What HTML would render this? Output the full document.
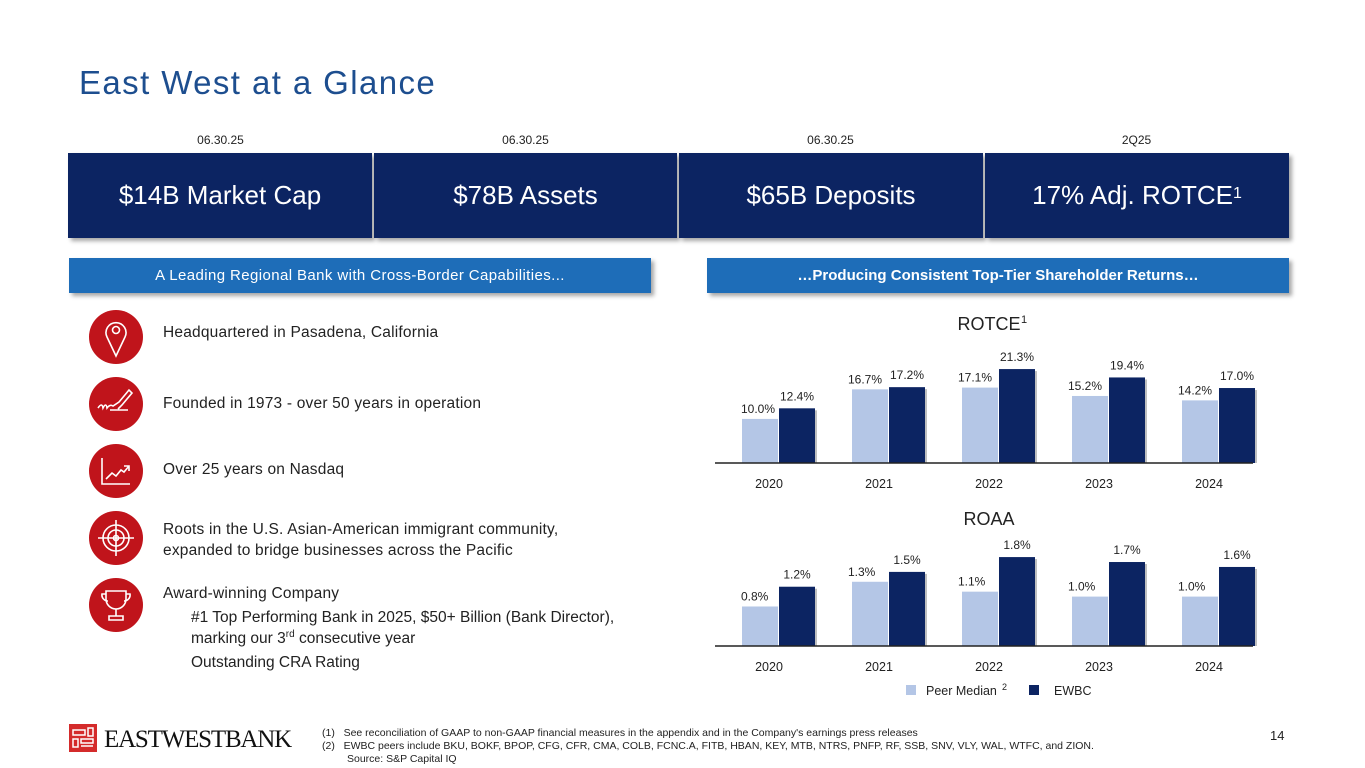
<!DOCTYPE html>
<html><head><meta charset="utf-8"><style>
body{margin:0;width:1365px;height:768px;background:#fff;font-family:"Liberation Sans",sans-serif;position:relative;overflow:hidden;color:#222}
.a{position:absolute}
.hdr{top:153px;height:85px;background:#0c2462;color:#fff;font-size:26px;display:flex;align-items:center;justify-content:center;box-shadow:3px 3px 4px rgba(0,0,0,.35)}
.date{top:133px;font-size:12px;color:#222;width:305px;text-align:center}
.ban{top:258px;height:35px;background:#1e6db8;color:#fff;font-size:15px;display:flex;align-items:center;justify-content:center;box-shadow:3px 3px 4px rgba(0,0,0,.35)}
.t{font-size:15.5px;color:#222;letter-spacing:.2px}
</style></head><body>
<div class="a" style="left:79px;top:64px;font-size:33px;color:#1d4e8f;letter-spacing:1.4px">East West at a Glance</div>

<div class="a date" style="left:68px">06.30.25</div>
<div class="a date" style="left:373px">06.30.25</div>
<div class="a date" style="left:678px">06.30.25</div>
<div class="a date" style="left:984px">2Q25</div>
<div class="a hdr" style="left:68px;width:304px">$14B Market Cap</div>
<div class="a hdr" style="left:374px;width:303px">$78B Assets</div>
<div class="a hdr" style="left:679px;width:304px">$65B Deposits</div>
<div class="a hdr" style="left:985px;width:304px">17% Adj. ROTCE<sup style="font-size:16px;position:relative;top:-2px">1</sup></div>

<div class="a ban" style="left:69px;width:582px;letter-spacing:.4px">A Leading Regional Bank with Cross-Border Capabilities...</div>
<div class="a ban" style="left:707px;width:582px;font-weight:bold">…Producing Consistent Top-Tier Shareholder Returns…</div>

<svg class="a" style="left:0;top:0" width="200" height="768">
<g fill="none" stroke="#fff" stroke-width="1.6">
<circle cx="116" cy="337" r="27" fill="#c0141b" stroke="none"/>
<path d="M116 356 L107 337 A10 10 0 1 1 125 337 Z"/><circle cx="116" cy="330" r="3.5"/>
<circle cx="116" cy="404" r="27" fill="#c0141b" stroke="none"/>
<path d="M98 408 q4 -6 5 0 q3 -6 4 0 q3 -4 6 -2 l6 -4 l10 -12 l3 3 l-10 12 l-4 4 M110 410 h18"/>
<circle cx="116" cy="471" r="27" fill="#c0141b" stroke="none"/>
<path d="M102 458 v26 h28 M106 479 l6 -6 l4 3 l5 -6 l3 2 l5 -6 M124 466 h5 v5"/>
<circle cx="116" cy="538" r="27" fill="#c0141b" stroke="none"/>
<circle cx="116" cy="538" r="13"/><circle cx="116" cy="538" r="8"/><circle cx="116" cy="538" r="2.5"/><path d="M116 520 v36 M98 538 h36"/>
<circle cx="116" cy="605" r="27" fill="#c0141b" stroke="none"/>
<path d="M106 591 h20 v8 a10 10 0 0 1 -20 0 Z M106 594 h-4 a6 6 0 0 0 6 7 M126 594 h4 a6 6 0 0 1 -6 7 M116 609 v7 M109 620 h14 v-4 h-14 Z"/>
</g></svg>

<div class="a t" style="left:163px;top:324px">Headquartered in Pasadena, California</div>
<div class="a t" style="left:163px;top:395px">Founded in 1973 - over 50 years in operation</div>
<div class="a t" style="left:163px;top:461px">Over 25 years on Nasdaq</div>
<div class="a t" style="left:163px;top:519px;line-height:21px">Roots in the U.S. Asian-American immigrant community,<br>expanded to bridge businesses across the Pacific</div>
<div class="a t" style="left:163px;top:585px">Award-winning Company</div>
<div class="a t" style="left:191px;top:607px;line-height:21px;letter-spacing:0">#1 Top Performing Bank in 2025, $50+ Billion (Bank Director),<br>marking our 3<sup style="font-size:10px;line-height:0">rd</sup> consecutive year</div>
<div class="a t" style="left:191px;top:654px;letter-spacing:0">Outstanding CRA Rating</div>

<svg class="a" id="ch" style="left:0;top:0" width="1365" height="768"></svg>

<div class="a" style="left:69px;top:724px;width:28px;height:28px;background:#d42b2b"></div>
<svg class="a" style="left:69px;top:724px" width="28" height="28"><g stroke="#fff" stroke-width="1.5" fill="none"><path d="M4 6h12v5H4zM4 15h5v8h-5zM12 15h12v4h-12zM19 4h5v8h-5zM12 22h12"/></g></svg>
<div class="a" style="left:104px;top:726px;font-family:'Liberation Serif',serif;font-size:25px;color:#111;letter-spacing:-1.2px">EASTWESTBANK</div>
<div class="a" style="left:322px;top:727px;font-size:10.5px;line-height:13px;color:#222">
<div>(1)&nbsp;&nbsp;&nbsp;See reconciliation of GAAP to non-GAAP financial measures in the appendix and in the Company's earnings press releases</div>
<div>(2)&nbsp;&nbsp;&nbsp;EWBC peers include BKU, BOKF, BPOP, CFG, CFR, CMA, COLB, FCNC.A, FITB, HBAN, KEY, MTB, NTRS, PNFP, RF, SSB, SNV, VLY, WAL, WTFC, and ZION.</div>
<div style="padding-left:25px">Source: S&amp;P Capital IQ</div></div>
<div class="a" style="left:1270px;top:728px;font-size:13px">14</div>

<script>
const years=["2020","2021","2022","2023","2024"];
const rotcePeer=[10.0,16.7,17.1,15.2,14.2];
const rotceEwbc=[12.4,17.2,21.3,19.4,17.0];
const roaaPeer=[0.8,1.3,1.1,1.0,1.0];
const roaaEwbc=[1.2,1.5,1.8,1.7,1.6];
const svg=document.getElementById('ch');
const NS='http://www.w3.org/2000/svg';
function mk(tag,at,txt){const e=document.createElementNS(NS,tag);for(const k in at)e.setAttribute(k,at[k]);if(txt!=null)e.textContent=txt;svg.appendChild(e);return e;}
function xc(i){return 779+i*110;}
function draw(name,peer,ewbc,base,ppu,title,titleY){
  const y=v=>base-v*ppu;
  const t=mk('text',{x:989,y:titleY,'text-anchor':'middle','font-size':18,fill:'#222','font-family':'Liberation Sans'},title);
  
  
  years.forEach((yr,i)=>{
    const c=xc(i);
    const p=mk('rect',{x:c-37,y:y(peer[i]),width:36,height:base-y(peer[i]),fill:'#b4c6e6'});
    
    
    mk('rect',{x:c+2,y:y(ewbc[i])+2,width:36,height:base-y(ewbc[i])-2,fill:'rgba(0,0,0,.25)'});
    const e=mk('rect',{x:c,y:y(ewbc[i]),width:36,height:base-y(ewbc[i]),fill:'#0c2462'});
    
    
    const pl=mk('text',{x:c-37+(i==0?-1:-4),y:y(peer[i])-6,'text-anchor':'start','font-size':12,fill:'#222','font-family':'Liberation Sans'},peer[i].toFixed(1)+'%');
    
    
    const el=mk('text',{x:c+18,y:y(ewbc[i])-8,'text-anchor':'middle','font-size':12,fill:'#222','font-family':'Liberation Sans'},ewbc[i].toFixed(1)+'%');
    
    
    const xl=mk('text',{x:c-10,y:base+25,'text-anchor':'middle','font-size':12.5,fill:'#222','font-family':'Liberation Sans'},yr);
    
    
  });
  const ax=mk('line',{x1:715,x2:1253,y1:base,y2:base,stroke:'#222','stroke-width':1.5});
  
  
}
draw('rotce',rotcePeer,rotceEwbc,463,4.41,'ROTCE',330);
mk('text',{x:1021,y:323,'font-size':11,fill:'#222','font-family':'Liberation Sans'},'1');
draw('roaa',roaaPeer,roaaEwbc,646,49.4,'ROAA',525);
const l1=mk('rect',{x:906,y:685,width:10,height:10,fill:'#b4c6e6'});


const l1t=mk('text',{x:926,y:695,'font-size':12.5,fill:'#222','font-family':'Liberation Sans'},'Peer Median');


mk('text',{x:1002,y:690,'font-size':9,fill:'#222','font-family':'Liberation Sans'},'2');
const l2=mk('rect',{x:1029,y:685,width:10,height:10,fill:'#0c2462'});


const l2t=mk('text',{x:1054,y:695,'font-size':12.5,fill:'#222','font-family':'Liberation Sans'},'EWBC');


</script>
</body></html>
